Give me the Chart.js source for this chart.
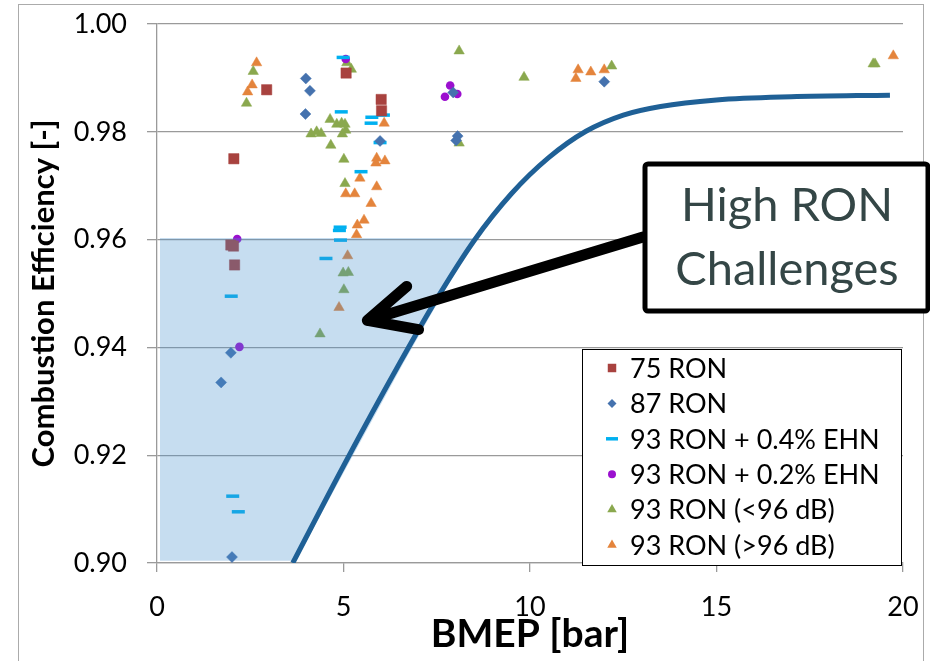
<!DOCTYPE html>
<html>
<head>
<meta charset="utf-8">
<script src="https://cdn.jsdelivr.net/npm/chart.js@4.4.1/dist/chart.umd.min.js"></script>
<style>
  html, body { margin: 0; padding: 0; background: #fff; }
  #wrap { width: 930px; height: 661px; position: relative; }
  canvas { display: block; }
</style>
</head>
<body>
<div id="wrap"><canvas id="chart" width="930" height="661"></canvas></div>
<script>
// ---- measured combustion efficiency vs. BMEP, per fuel ----
const BMEP_75 = [2.94, 2.06, 5.07, 6.01, 6.02, 1.98, 2.05, 2.08];
const EFF_75  = [0.9878, 0.9750, 0.9909, 0.9860, 0.9839, 0.9590, 0.9588, 0.9553];

const BMEP_87 = [3.99, 4.10, 3.98, 5.98, 7.94, 8.06, 8.02, 1.98, 1.72, 2.01, 11.99];
const EFF_87  = [0.9899, 0.9876, 0.9833, 0.9783, 0.9873, 0.9792, 0.9784, 0.9390, 0.9335, 0.9011, 0.9893];

const BMEP_EHN04 = [4.99, 4.94, 5.76, 5.74, 6.07, 5.98, 5.47, 4.91, 4.89, 4.92, 4.53, 1.99, 2.03, 2.18];
const EFF_EHN04  = [0.9938, 0.9837, 0.9827, 0.9816, 0.9831, 0.9780, 0.9726, 0.9623, 0.9617, 0.9599, 0.9565, 0.9495, 0.9124, 0.9095];

const BMEP_EHN02 = [5.06, 7.86, 7.72, 8.05, 2.15, 2.21];
const EFF_EHN02  = [0.9935, 0.9886, 0.9865, 0.9870, 0.9601, 0.9401];

const BMEP_93_QUIET = [2.58, 2.40, 5.09, 5.21, 4.64, 4.82, 4.95, 5.04, 4.13, 4.28, 4.40, 4.97, 5.06,
                       4.66, 5.01, 5.04, 4.99, 5.13, 5.01, 4.37, 8.10, 8.10, 9.84, 12.19, 19.20, 19.25];
const EFF_93_QUIET  = [0.9912, 0.9853, 0.9928, 0.9916, 0.9823, 0.9814, 0.9816, 0.9814, 0.9796, 0.9800, 0.9797, 0.9796, 0.9803,
                       0.9775, 0.9749, 0.9704, 0.9538, 0.9539, 0.9507, 0.9425, 0.9950, 0.9779, 0.9901, 0.9922, 0.9926, 0.9926];

const BMEP_93_LOUD = [2.67, 2.55, 2.43, 6.09, 5.89, 5.87, 6.11, 5.44, 5.06, 5.30, 5.89, 5.74, 5.55, 5.37, 5.35,
                      5.11, 4.88, 11.29, 11.23, 11.63, 11.99, 19.74];
const EFF_93_LOUD  = [0.9928, 0.9887, 0.9874, 0.9816, 0.9751, 0.9742, 0.9746, 0.9714, 0.9685, 0.9685, 0.9698, 0.9667, 0.9636, 0.9627, 0.9609,
                      0.9570, 0.9474, 0.9915, 0.9899, 0.9911, 0.9915, 0.9941];

// ---- efficiency limit curve ----
const CURVE_BMEP = [3.64, 5.00, 6.50, 7.50, 8.50, 9.50, 10.50, 11.50, 12.50, 13.50, 15.00, 17.00, 19.65];
const CURVE_EFF  = [0.9000, 0.9180, 0.9370, 0.9490, 0.9598, 0.9685, 0.9752, 0.9801, 0.9831, 0.9847, 0.9859, 0.9865, 0.9868];

// ---- shaded low-efficiency region (upper and lower bounds) ----
const SHADE_TOP_BMEP = [0.08, 8.50];
const SHADE_TOP_EFF  = [0.9603, 0.9603];
const SHADE_LOW_BMEP = [0.08, 3.72, 5.10, 6.60, 7.58, 8.50];
const SHADE_LOW_EFF  = [0.9004, 0.9004, 0.9180, 0.9370, 0.9490, 0.9603];

// ---- axis ticks ----
const X_TICKS = [0, 5, 10, 15, 20];
const Y_TICKS = [0.90, 0.92, 0.94, 0.96, 0.98, 1.00];

const FONT = 'Lato, "Open Sans", sans-serif';
const pts = (xs, ys) => xs.map((x, i) => ({ x, y: ys[i] }));

function markerSet(label, xs, ys, style, color, radius, border, key) {
  return {
    label, data: pts(xs, ys), showLine: false, order: 2,
    pointStyle: style, pointRadius: radius, pointHoverRadius: radius,
    pointBackgroundColor: color, pointBorderColor: color, pointBorderWidth: border,
    backgroundColor: color, borderColor: color,
    keyMarker: key
  };
}

const datasets = [
  markerSet('75 RON', BMEP_75, EFF_75, 'rect', '#A8423F', 7.3, 0.5, { r: 6, bw: 0 }),
  markerSet('87 RON', BMEP_87, EFF_87, 'rectRot', '#4572AE', 5.5, 0.5, { r: 4.5, bw: 0 }),
  markerSet('93 RON + 0.4% EHN', BMEP_EHN04, EFF_EHN04, 'line', '#00B0F0', 6.5, 3.5, { r: 6, bw: 3.5 }),
  markerSet('93 RON + 0.2% EHN', BMEP_EHN02, EFF_EHN02, 'circle', '#9B10CF', 4.3, 0, { r: 4, bw: 0 }),
  markerSet('93 RON (<96 dB)', BMEP_93_QUIET, EFF_93_QUIET, 'triangle', '#8AA84E', 6, 0.5, { r: 5.5, bw: 0 }),
  markerSet('93 RON (>96 dB)', BMEP_93_LOUD, EFF_93_LOUD, 'triangle', '#E4843C', 6, 0.5, { r: 5.5, bw: 0 }),
  {
    label: 'shadeTop', data: pts(SHADE_TOP_BMEP, SHADE_TOP_EFF), showLine: true,
    borderWidth: 0, borderColor: 'rgba(0,0,0,0)', pointRadius: 0,
    backgroundColor: 'rgba(70,145,205,0.31)', fill: '+1', order: 0
  },
  {
    label: 'shadeLow', data: pts(SHADE_LOW_BMEP, SHADE_LOW_EFF), showLine: true,
    borderWidth: 0, borderColor: 'rgba(0,0,0,0)', pointRadius: 0,
    tension: 0, fill: false, order: 1
  },
  {
    label: 'limit', data: pts(CURVE_BMEP, CURVE_EFF), showLine: true,
    borderColor: '#1F6096', borderWidth: 5, pointRadius: 0,
    cubicInterpolationMode: 'monotone', fill: false, order: -1
  }
];

// white page with the light grey outer frame
const frame = {
  id: 'frame',
  beforeDraw(chart) {
    const ctx = chart.ctx;
    ctx.save();
    ctx.fillStyle = '#fff';
    ctx.fillRect(0, 0, chart.width, chart.height);
    ctx.strokeStyle = '#ababab';
    ctx.lineWidth = 1;
    ctx.strokeRect(18.5, 4.5, 905, 700);
    ctx.restore();
  }
};

// series key box in the lower right of the plot
const seriesKey = {
  id: 'seriesKey',
  afterDraw(chart) {
    const ctx = chart.ctx;
    const L = 582, T = 349, R = 901, B = 565;
    ctx.save();
    ctx.fillStyle = '#fff';
    ctx.fillRect(L, T, R - L, B - T);
    ctx.strokeStyle = '#000';
    ctx.lineWidth = 1;
    ctx.strokeRect(L + 0.5, T + 0.5, R - L, B - T);
    const rows = chart.data.datasets.filter(d => d.keyMarker);
    rows.forEach((ds, i) => {
      const y = 368 + i * 35.4;
      ctx.fillStyle = ds.pointBackgroundColor;
      ctx.strokeStyle = ds.pointBorderColor;
      ctx.lineWidth = ds.keyMarker.bw;
      Chart.helpers.drawPoint(ctx, {
        pointStyle: ds.pointStyle, radius: ds.keyMarker.r, rotation: 0, borderWidth: ds.keyMarker.bw
      }, 612, y);
      ctx.fillStyle = '#000';
      ctx.font = '27px ' + FONT;
      ctx.textAlign = 'left';
      ctx.textBaseline = 'middle';
      ctx.fillText(ds.label, 630, y + 1);
    });
    ctx.restore();
  }
};

// "High RON Challenges" call-out with its arrow into the shaded region
const callout = {
  id: 'callout',
  afterDraw(chart) {
    const { ctx, scales: { x, y } } = chart;
    const tipX = x.getPixelForValue(5.64), tipY = y.getPixelForValue(0.9450);
    const fromX = 643, fromY = 237;
    const ang = Math.atan2(fromY - tipY, fromX - tipX);
    ctx.save();
    ctx.strokeStyle = '#000';
    ctx.lineWidth = 11;
    ctx.lineCap = 'round';
    ctx.lineJoin = 'round';
    ctx.beginPath();
    ctx.moveTo(fromX, fromY);
    ctx.lineTo(tipX, tipY);
    const len = 52;
    ctx.moveTo(tipX + len * Math.cos(ang - 0.42), tipY + len * Math.sin(ang - 0.42));
    ctx.lineTo(tipX, tipY);
    ctx.lineTo(tipX + len * Math.cos(ang + 0.47), tipY + len * Math.sin(ang + 0.47));
    ctx.stroke();

    const bx = 645, by = 164, bw = 283, bh = 147;
    ctx.fillStyle = '#fff';
    ctx.lineWidth = 5;
    ctx.beginPath();
    ctx.roundRect(bx, by, bw, bh, 3);
    ctx.fill();
    ctx.stroke();

    ctx.fillStyle = '#344646';
    ctx.font = '47px ' + FONT;
    ctx.textAlign = 'center';
    ctx.textBaseline = 'alphabetic';
    ctx.fillText('High RON', 787, 221);
    ctx.fillText('Challenges', 787, 285);
    ctx.restore();
  }
};

function build() {
  new Chart(document.getElementById('chart'), {
    type: 'scatter',
    data: { datasets },
    options: {
      responsive: false,
      devicePixelRatio: 1,
      animation: false,
      layout: { padding: { left: 0, top: 24, right: 27, bottom: 0 } },
      plugins: {
        legend: { display: false },
        tooltip: { enabled: false }
      },
      scales: {
        x: {
          type: 'linear', min: X_TICKS[0], max: X_TICKS[X_TICKS.length - 1],
          afterBuildTicks: s => { s.ticks = X_TICKS.map(v => ({ value: v })); },
          afterFit: s => { s.height = 98; s.paddingLeft = 0; s.paddingRight = 0; },
          ticks: { font: { family: FONT, size: 27 }, color: '#000', padding: 19, maxRotation: 0 },
          grid: { drawOnChartArea: false, drawTicks: true, tickLength: 9, color: '#9a9a9a', lineWidth: 1.3 },
          border: { display: true, color: '#9a9a9a', width: 1.3 },
          title: {
            display: true, text: 'BMEP [bar]', color: '#000',
            font: { family: FONT, size: 39, weight: 'bold' }, padding: { top: 0, bottom: 3 }
          }
        },
        y: {
          type: 'linear', min: Y_TICKS[0], max: Y_TICKS[Y_TICKS.length - 1],
          afterBuildTicks: s => { s.ticks = Y_TICKS.map(v => ({ value: v })); },
          afterFit: s => { s.width = 157; s.paddingTop = 0; s.paddingBottom = 0; },
          ticks: {
            font: { family: FONT, size: 27 }, color: '#000', padding: 20,
            callback: v => Number(v).toFixed(2)
          },
          grid: { color: '#9a9a9a', lineWidth: 1.3, tickLength: 10 },
          border: { display: true, color: '#9a9a9a', width: 1.3 },
          title: {
            display: true, text: 'Combustion Efficiency [-]', color: '#000',
            font: { family: FONT, size: 31, weight: 'bold' }, padding: { top: 25, bottom: 0 }
          }
        }
      }
    },
    plugins: [frame, seriesKey, callout]
  });
}

Promise.all([
  document.fonts.load('27px Lato'),
  document.fonts.load('bold 32px Lato')
]).then(build, build);
</script>
</body>
</html>
